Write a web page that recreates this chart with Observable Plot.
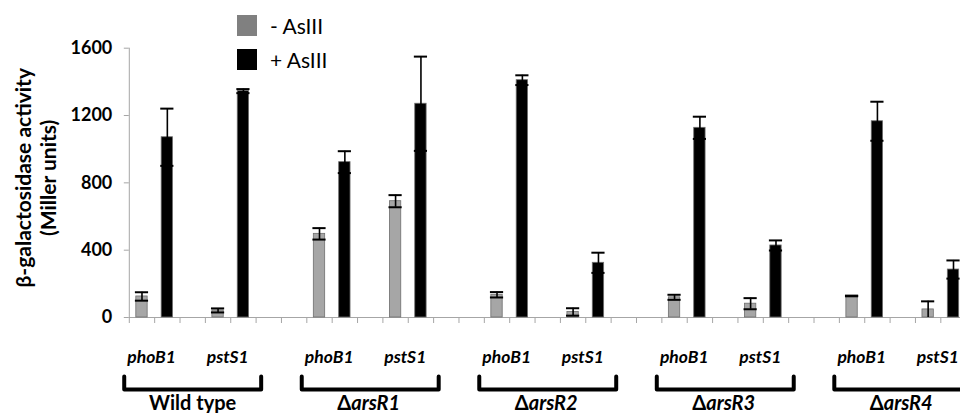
<!DOCTYPE html>
<html>
<head>
<meta charset="utf-8">
<script src="https://cdn.jsdelivr.net/npm/d3@7"></script>
<script src="https://cdn.jsdelivr.net/npm/@observablehq/plot@0.6"></script>
<style>
  html, body { margin: 0; padding: 0; background: #fff; overflow: hidden; }
  #wrap { position: relative; width: 960px; height: 413px; overflow: hidden; font-family: Lato, "Open Sans", sans-serif; }
  .leg { position: absolute; left: 237px; display: flex; align-items: center; font-size: 21px; color: #000; }
  .sw { width: 20px; height: 21px; margin-right: 13px; }
</style>
</head>
<body>
<div id="wrap"></div>
<script>
// ---- data ----
const strains = ["Wild type", "ΔarsR1", "ΔarsR2", "ΔarsR3", "ΔarsR4"];
const genes = ["phoB1", "pstS1"];
const conditions = ["- AsIII", "+ AsIII"];
// order: strain × gene (phoB1, pstS1)
const minusAs  = [125, 42, 497, 691, 135, 33, 120, 82, 128, 48];
const minusErr = [25, 12, 34, 36, 16, 22, 15, 33, 2, 48];
const plusAs   = [1071, 1345, 923, 1270, 1410, 325, 1127, 428, 1166, 285];
const plusErr  = [170, 12, 65, 280, 29, 60, 66, 30, 116, 54];
const yTicks = [0, 400, 800, 1200, 1600];

// ---- layout ----
const SLOTS_PER_GROUP = 7, SLOTS_PER_GENE = 3;
const nSlots = strains.length * SLOTS_PER_GROUP;
const Y0 = 317, Y1600 = 47.7;
const pxToUnits = px => px * 1600 / (Y0 - Y1600);

const bars = [];
strains.forEach((s, g) => genes.forEach((gene, j) => {
  const k = g * genes.length + j;
  const base = g * SLOTS_PER_GROUP + j * SLOTS_PER_GENE;
  bars.push({strain: s, gene, cond: conditions[0], slot: base, value: minusAs[k], err: minusErr[k]});
  bars.push({strain: s, gene, cond: conditions[1], slot: base + 1, value: plusAs[k], err: plusErr[k]});
}));

const geneLabels = [];
strains.forEach((s, g) => genes.forEach((gene, j) => {
  geneLabels.push({gene, pos: g * SLOTS_PER_GROUP + j * SLOTS_PER_GENE + 1});
}));

const halfW = 2.7;
const tipY = -pxToUnits(59), botY = -pxToUnits(72);
const bracketPts = [];
strains.forEach((s, g) => {
  const c = g * SLOTS_PER_GROUP + 2.5;
  bracketPts.push({strain: s, x: c - halfW, y: tipY});
  bracketPts.push({strain: s, x: c - halfW, y: botY});
  bracketPts.push({strain: s, x: c + halfW, y: botY});
  bracketPts.push({strain: s, x: c + halfW, y: tipY});
});
const strainLabels = strains.map((s, g) => ({name: s, c: g * SLOTS_PER_GROUP + 2.5}));
const plainLabels = strainLabels.filter(d => !d.name.startsWith("Δ"));
const deltaLabels = strainLabels.filter(d => d.name.startsWith("Δ"));

const caps = bars.flatMap(d => [{slot: d.slot, y: d.value - d.err}, {slot: d.slot, y: d.value + d.err}])
  .filter(d => d.y > 0);

const font = "Lato, 'Open Sans', sans-serif";
const chart = Plot.plot({
  width: 960,
  height: 413,
  marginLeft: 128.8,
  marginTop: 47.7,
  marginBottom: 96,
  marginRight: 0,
  style: {fontFamily: font, background: "white"},
  x: {type: "linear", domain: [0, nSlots], range: [128.8, 128.8 + 25.36 * nSlots]},
  y: {domain: [0, 1600], range: [Y0, Y1600]},
  color: {domain: conditions, range: ["#a6a6a6", "#000000"]},
  marks: [
    Plot.ruleX([0], {x: d => d, y1: 0, y2: 1600, stroke: "#a6a6a6"}),
    Plot.ruleY([0], {y: d => d, x1: 0, x2: nSlots, stroke: "#a6a6a6"}),
    Plot.axisX({ticks: d3.range(nSlots + 1), tickSize: 6, tickFormat: () => "", stroke: "#a6a6a6"}),
    Plot.axisY({ticks: yTicks, tickSize: 5, tickPadding: 12, fontSize: 18, fontWeight: "bold", stroke: "#a6a6a6", fill: "black", tickFormat: d => String(d)}),
    Plot.rectY(bars, {x1: "slot", x2: d => d.slot + 1, y: "value", fill: "cond", stroke: "#6f6f6f", strokeWidth: 0.8, insetLeft: 7, insetRight: 7}),
    Plot.ruleX(bars, {x: d => d.slot + 0.5, y1: d => Math.max(0, d.value - d.err), y2: d => d.value + d.err, stroke: "black", strokeWidth: 1.6}),
    Plot.ruleY(caps, {y: "y", x1: d => d.slot + 0.5 - 0.26, x2: d => d.slot + 0.5 + 0.26, stroke: "black", strokeWidth: 2}),
    Plot.text(["β-galactosidase activity\n(Miller units)"], {x: 0, y: 830, dx: -94, rotate: -90, fontSize: 21, fontWeight: "bold", lineHeight: 1.2, lineAnchor: "middle", fill: "black"}),
    Plot.text(geneLabels, {x: "pos", y: 0, dy: 40, dx: -3, text: "gene", fontSize: 17.5, fontWeight: "bold", fontStyle: "italic", lineAnchor: "middle", fill: "black"}),
    Plot.line(bracketPts, {x: "x", y: "y", z: "strain", stroke: "black", strokeWidth: 4, strokeLinejoin: "round", strokeLinecap: "round"}),
    Plot.text(plainLabels, {x: "c", y: 0, dy: 86, text: "name", fontSize: 20, fontWeight: "bold", lineAnchor: "middle", fill: "black"}),
    Plot.text(deltaLabels, {x: "c", y: 0, dy: 86, dx: -19, text: d => "Δ", textAnchor: "end", fontSize: 20, fontWeight: "bold", lineAnchor: "middle", fill: "black"}),
    Plot.text(deltaLabels, {x: "c", y: 0, dy: 86, dx: -19, text: d => d.name.slice(1), textAnchor: "start", fontSize: 20, fontWeight: "bold", fontStyle: "italic", lineAnchor: "middle", fill: "black"})
  ]
});
const wrap = document.getElementById("wrap");
wrap.appendChild(chart);

// legend (overlaid inside the plotting area, top)
const legendColors = ["#808080", "#000000"];
const legendTops = [13, 47];
conditions.forEach((c, i) => {
  const row = document.createElement("div");
  row.className = "leg";
  row.style.top = legendTops[i] + "px";
  const sw = document.createElement("div");
  sw.className = "sw";
  sw.style.background = legendColors[i];
  const t = document.createElement("span");
  t.textContent = c;
  row.appendChild(sw);
  row.appendChild(t);
  wrap.appendChild(row);
});
</script>
</body>
</html>
